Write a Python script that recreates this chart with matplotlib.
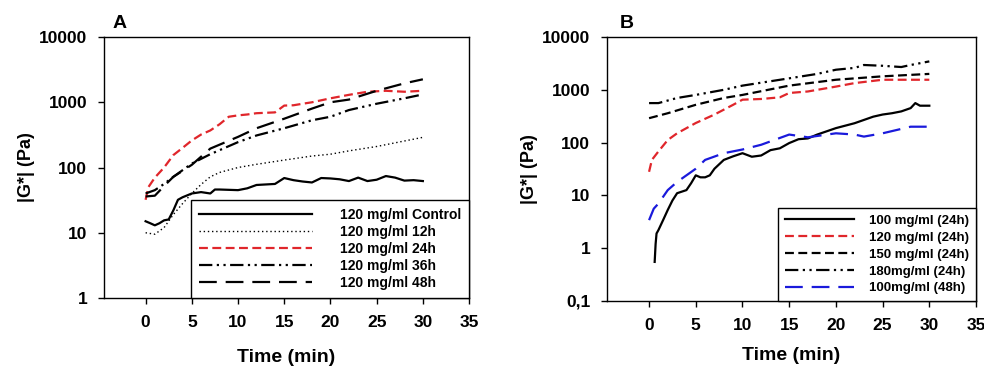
import matplotlib.pyplot as plt
from matplotlib.ticker import FixedLocator, NullLocator

plt.rcParams['font.family'] = ['Liberation Sans', 'DejaVu Sans']
plt.rcParams['font.weight'] = 'bold'

# ---- Panel A : 120 mg/ml, different times ----
tA_ctrl = [0, 0.5, 1, 1.5, 2, 2.5, 3, 3.5, 4, 5, 6, 7, 7.5, 8, 10, 11, 12, 14, 15, 16, 17, 18, 19,
           20, 21, 22, 23, 24, 25, 26, 27, 28, 29, 30]
gA_ctrl = [15, 14, 13, 14, 15.5, 16, 22, 32, 35, 40, 42, 40, 46, 46, 45, 48, 54, 56, 69, 64, 61, 59, 69,
           68, 66, 62, 70, 62, 65, 74, 70, 63, 64, 62]
tA_12 = [0, 1, 2, 3, 4, 5, 6, 7, 8, 10, 12, 15, 18, 20, 22, 25, 28, 30]
gA_12 = [10, 9.5, 12, 19, 28, 40, 55, 72, 84, 100, 112, 130, 150, 160, 180, 210, 255, 290]
tA_24 = [0, 0.3, 1, 2, 3, 4, 5, 6, 7, 8, 9, 10, 11, 12, 13, 14, 15, 16, 17, 18, 20, 22, 24, 26, 28, 30]
gA_24 = [32, 50, 70, 100, 155, 200, 260, 320, 370, 460, 600, 630, 650, 680, 690, 700, 890, 900, 950, 1000,
         1150, 1300, 1450, 1500, 1450, 1500]
tA_36 = [0, 1, 2, 3, 5, 7, 10, 12, 15, 18, 20, 22, 25, 28, 30]
gA_36 = [40, 45, 56, 72, 115, 160, 245, 310, 400, 530, 600, 760, 950, 1150, 1320]
tA_48 = [0, 1, 2, 3, 5, 7, 10, 12, 15, 18, 20, 22, 25, 28, 30]
gA_48 = [36, 37, 52, 72, 110, 195, 295, 400, 560, 800, 1000, 1100, 1500, 1950, 2250]
labelsA = ['120 mg/ml Control', '120 mg/ml 12h', '120 mg/ml 24h', '120 mg/ml 36h', '120 mg/ml 48h']

# ---- Panel B : 24h, different concentrations ----
tB_100 = [0.6, 0.7, 0.8, 1, 1.5, 2, 2.5, 3, 4, 4.5, 5, 5.5, 6, 6.5, 7, 8, 9, 10, 11, 12, 13, 14, 15, 16,
          17, 18, 20, 22, 24, 25, 26, 27, 28, 28.5, 29, 30]
gB_100 = [0.55, 1.2, 1.9, 2.2, 3.4, 5.3, 8, 11, 12.6, 17, 24, 22, 22, 24, 32, 47, 55, 63, 54, 57, 72, 78, 98,
          116, 120, 142, 188, 233, 310, 340, 360, 390, 450, 560, 500, 500]
tB_120 = [0, 0.3, 1, 2, 3, 5, 7, 9, 10, 12, 14, 15, 17, 20, 22, 25, 30]
gB_120 = [28, 47, 68, 112, 150, 235, 340, 520, 650, 670, 720, 870, 930, 1150, 1340, 1550, 1550]
tB_150 = [0, 2, 5, 8, 10, 15, 20, 25, 30]
gB_150 = [290, 360, 520, 700, 800, 1200, 1550, 1800, 2000]
tB_180 = [0, 1, 3, 5, 8, 10, 15, 18, 20, 22, 23, 25, 27, 28, 30]
gB_180 = [560, 560, 700, 800, 1000, 1200, 1650, 2000, 2400, 2600, 2950, 2850, 2700, 2950, 3450]
tB_48 = [0, 0.5, 1, 2, 3, 4, 5, 6, 8, 10, 12, 15, 17, 20, 22, 23, 25, 28, 30]
gB_48 = [3.4, 5.6, 7, 12.6, 18, 24, 32, 47, 63, 74, 91, 142, 126, 150, 142, 130, 150, 200, 200]
labelsB = ['100 mg/ml (24h)', '120 mg/ml (24h)', '150 mg/ml (24h)', '180mg/ml (24h)', '100mg/ml (48h)']

x_ticks = [0, 5, 10, 15, 20, 25, 30, 35]

fig = plt.figure(figsize=(9.84, 3.66), dpi=100)
axA = fig.add_axes([0.1057, 0.1858, 0.371, 0.713])
axB = fig.add_axes([0.6169, 0.1776, 0.375, 0.7213])

lw = 1.6
axA.plot(tA_ctrl, gA_ctrl, color='black', lw=lw, label=labelsA[0])
axA.plot(tA_12, gA_12, color='black', lw=1.0, ls=(0, (1, 2)), label=labelsA[1])
axA.plot(tA_24, gA_24, color='#e0262b', lw=lw, ls=(0, (4, 2)), label=labelsA[2])
axA.plot(tA_36, gA_36, color='black', lw=lw, ls=(0, (6, 2, 1, 2, 1, 2)), label=labelsA[3])
axA.plot(tA_48, gA_48, color='black', lw=lw, ls=(0, (8, 4)), label=labelsA[4])

axB.plot(tB_100, gB_100, color='black', lw=lw, label=labelsB[0])
axB.plot(tB_120, gB_120, color='#e0262b', lw=lw, ls=(0, (4, 2)), label=labelsB[1])
axB.plot(tB_150, gB_150, color='black', lw=lw, ls=(0, (4, 2)), label=labelsB[2])
axB.plot(tB_180, gB_180, color='black', lw=lw, ls=(0, (6, 2, 1, 2, 1, 2)), label=labelsB[3])
axB.plot(tB_48, gB_48, color='#1a1adb', lw=lw, ls=(0, (8, 4)), label=labelsB[4])

for ax in (axA, axB):
    ax.set_yscale('log')
    ax.set_xlim(-4.5, 35)
    ax.xaxis.set_major_locator(FixedLocator(x_ticks))
    ax.yaxis.set_minor_locator(NullLocator())
    ax.tick_params(axis='both', which='major', direction='out', length=4, width=1,
                   labelsize=12.5, pad=8)
    for lab in ax.get_xticklabels() + ax.get_yticklabels():
        lab.set_fontweight('bold')
    for s in ax.spines.values():
        s.set_linewidth(1.0)

axA.set_xlabel('Time (min)', fontsize=14, fontweight='bold', labelpad=14)
axA.set_ylabel('|G*| (Pa)', fontsize=13, fontweight='bold', labelpad=3)
axB.set_xlabel('Time (min)', fontsize=14, fontweight='bold', labelpad=10)
axB.set_ylabel('|G*| (Pa)', fontsize=13, fontweight='bold', labelpad=3)

axA.set_ylim(1, 10000)
axA.set_yticks([1, 10, 100, 1000, 10000])
axA.set_yticklabels(['1', '10', '100', '1000', '10000'], fontweight='bold')
axB.set_ylim(0.1, 10000)
axB.set_yticks([0.1, 1, 10, 100, 1000, 10000])
axB.set_yticklabels(['0,1', '1', '10', '100', '1000', '10000'], fontweight='bold')

legA = axA.legend(loc='lower right', borderaxespad=0, fancybox=False, edgecolor='black',
                  framealpha=1, handlelength=8.2, handletextpad=2.0, labelspacing=0.22,
                  borderpad=0.55, prop={'size': 10, 'weight': 'bold'})
legA.get_frame().set_linewidth(1.0)
legB = axB.legend(loc='lower right', borderaxespad=0, fancybox=False, edgecolor='black',
                  framealpha=1, handlelength=5.2, handletextpad=1.2, labelspacing=0.35,
                  borderpad=0.5, prop={'size': 9.5, 'weight': 'bold'})
legB.get_frame().set_linewidth(1.0)

fig.text(120 / 984, 1 - 24 / 366, 'A', fontsize=14, fontweight='bold', ha='center', va='center')
fig.text(627 / 984, 1 - 23 / 366, 'B', fontsize=14, fontweight='bold', ha='center', va='center')

fig.savefig('out.png', dpi=100)
